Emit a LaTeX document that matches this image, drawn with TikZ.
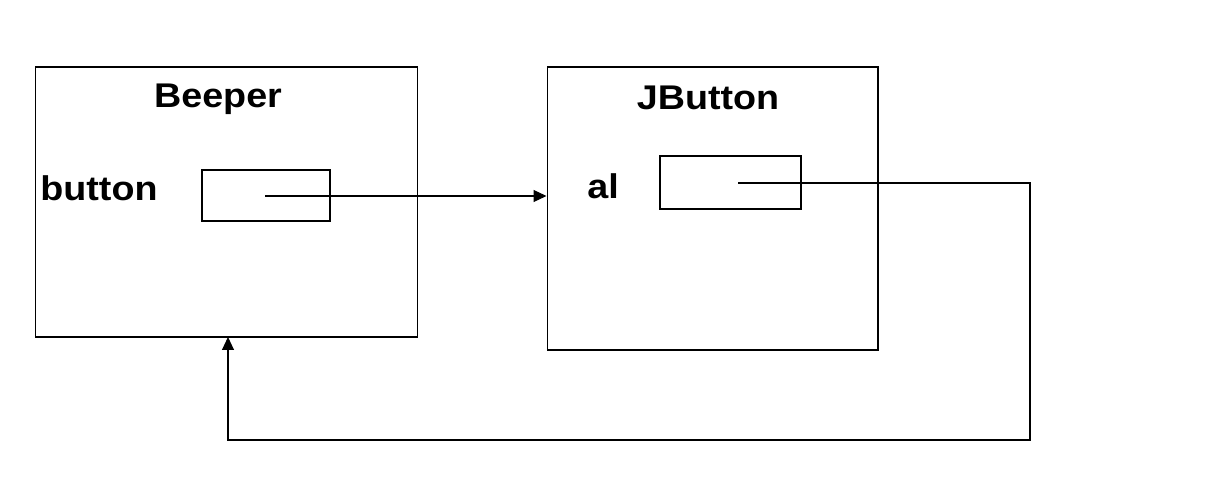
\documentclass[tikz,border=0pt]{standalone}
\usepackage{fontspec}
\setmainfont{Liberation Sans}
\usetikzlibrary{arrows.meta}
\begin{document}
\begin{tikzpicture}[x=0.02cm,y=-0.02cm,
  box/.style={draw=black,line width=0.6pt,inner sep=0pt,fill=none},
  lbl/.style={font=\fontsize{19.5}{22}\selectfont\bfseries,inner sep=0pt},
  conn/.style={draw=black,line width=0.6pt},
  arr/.style={-{Triangle[length=0.26cm,width=0.24cm]}}]
\useasboundingbox (0,0) rectangle (1224,483);
\node[box,minimum width=7.66cm,minimum height=5.4cm] (beeper) at (226.5,202) {};
\node[box,minimum width=2.56cm,minimum height=1.02cm] (bslot) at (266,195.5) {};
\node[box,minimum width=6.62cm,minimum height=5.66cm] (jbutton) at (712.5,208.5) {};
\node[box,minimum width=2.82cm,minimum height=1.06cm] (aslot) at (730.5,182.5) {};
\node[lbl,anchor=base] (tb) at (218,108) {\scalebox{1.1}[1]{Beeper}};
\node[lbl,anchor=base west] (tbtn) at (40,200) {\scalebox{1.1}[1]{button}};
\node[lbl,anchor=base] (tj) at (708,110) {\scalebox{1.1}[1]{JButton}};
\node[lbl,anchor=base west] (tal) at (587,198) {\scalebox{1.1}[1]{al}};
\coordinate (bstart) at (265,196);
\coordinate (astart) at (738,183);
\coordinate (c1) at (1030,183);
\coordinate (c2) at (1030,440);
\coordinate (c3) at (228,440);
\coordinate (bend) at (228,337);
\draw[conn,arr] (bstart) -- (jbutton.west |- bstart);
\draw[conn,arr] (astart) -- (c1) -- (c2) -- (c3) -- (bend);
\end{tikzpicture}
\end{document}
